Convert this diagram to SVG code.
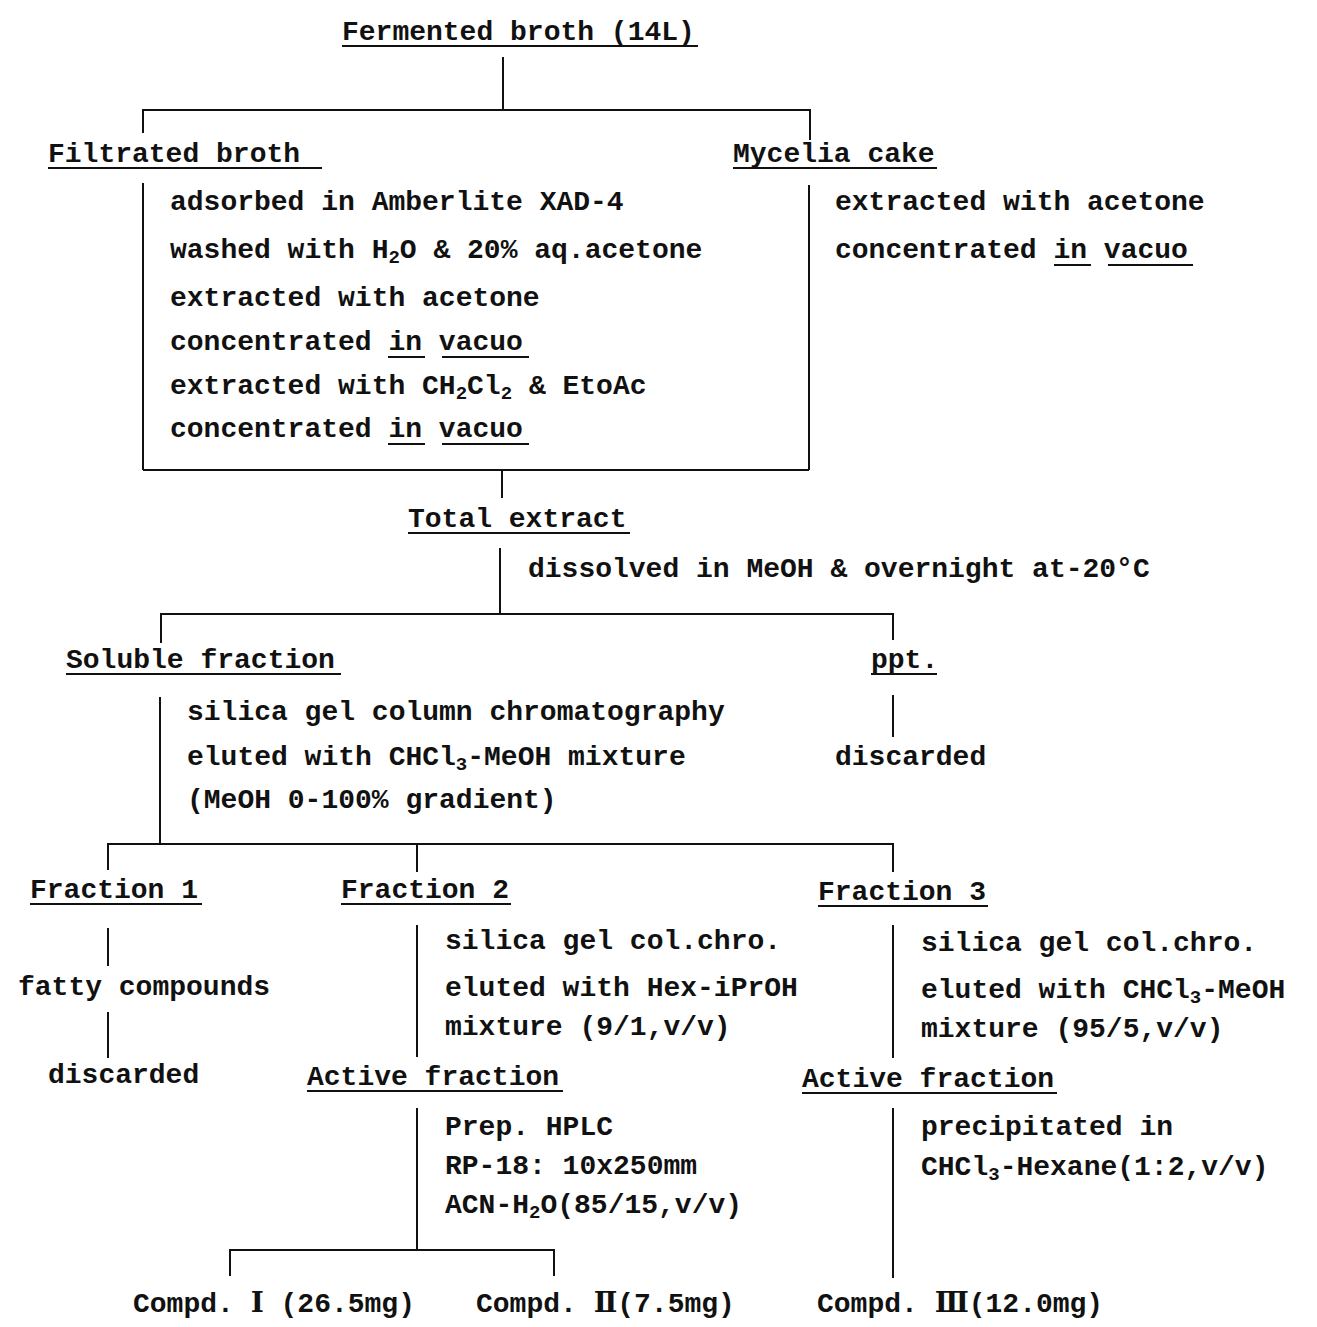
<svg xmlns="http://www.w3.org/2000/svg" width="1317" height="1327" viewBox="0 0 1317 1327">
<style>
text{font-family:"Liberation Mono","DejaVu Sans Mono",monospace;font-weight:bold;font-size:28px;fill:#111;}
.sub{font-size:19px;}
.rn{font-family:"DejaVu Serif","Noto Sans CJK JP",serif;}
line,path{stroke:#111;stroke-width:2;fill:none;}
.ul{stroke-width:2;}
</style>
<rect width="1317" height="1327" fill="#fff"/>
<g id="connectors">
<line x1="503" y1="57" x2="503" y2="110"/>
<path d="M143,133 V110 H810 V140"/>
<line x1="143" y1="183" x2="143" y2="470"/>
<line x1="809" y1="185" x2="809" y2="470"/>
<line x1="143" y1="470" x2="809" y2="470"/>
<line x1="502" y1="470" x2="502" y2="498"/>
<line x1="500" y1="548" x2="500" y2="614"/>
<path d="M161,643 V614 H893 V640"/>
<line x1="160" y1="697" x2="160" y2="844"/>
<line x1="893" y1="695" x2="893" y2="737"/>
<path d="M108,870 V844 H893 V872"/>
<line x1="417" y1="844" x2="417" y2="872"/>
<line x1="108" y1="928" x2="108" y2="966"/>
<line x1="108" y1="1012" x2="108" y2="1058"/>
<line x1="417" y1="925" x2="417" y2="1057"/>
<line x1="893" y1="925" x2="893" y2="1058"/>
<line x1="417" y1="1108" x2="417" y2="1250"/>
<path d="M230,1276 V1250 H554 V1276"/>
<line x1="893" y1="1108" x2="893" y2="1278"/>
</g>
<g id="fermented">
<text x="342" y="40">Fermented broth (14L)</text>
<line class="ul" x1="342" y1="46" x2="698" y2="46"/>
</g>
<g id="filtrated">
<text x="48" y="162">Filtrated broth</text>
<line class="ul" x1="48" y1="168" x2="322" y2="168"/>
</g>
<g id="mycelia">
<text x="733" y="162">Mycelia cake</text>
<line class="ul" x1="733" y1="168" x2="937" y2="168"/>
</g>
<g id="filtrated-steps">
<text x="170" y="210">adsorbed in Amberlite XAD-4</text>
<text x="170" y="258">washed with H<tspan class="sub" dy="5">2</tspan><tspan dy="-5">O &amp; 20% aq.acetone</tspan></text>
<text x="170" y="306">extracted with acetone</text>
<text x="170" y="350">concentrated in vacuo</text>
<line class="ul" x1="388" y1="357" x2="425" y2="357"/>
<line class="ul" x1="442" y1="357" x2="529" y2="357"/>
<text x="170" y="394">extracted with CH<tspan class="sub" dy="5">2</tspan><tspan dy="-5">Cl</tspan><tspan class="sub" dy="5">2</tspan><tspan dy="-5"> &amp; EtoAc</tspan></text>
<text x="170" y="437">concentrated in vacuo</text>
<line class="ul" x1="388" y1="444" x2="425" y2="444"/>
<line class="ul" x1="442" y1="444" x2="529" y2="444"/>
</g>
<g id="mycelia-steps">
<text x="835" y="210">extracted with acetone</text>
<text x="835" y="258">concentrated in vacuo</text>
<line class="ul" x1="1054" y1="265" x2="1091" y2="265"/>
<line class="ul" x1="1108" y1="265" x2="1193" y2="265"/>
</g>
<g id="total">
<text x="408" y="527">Total extract</text>
<line class="ul" x1="408" y1="533" x2="630" y2="533"/>
</g>
<g id="total-step">
<text x="528" y="577">dissolved in MeOH &amp; overnight at-20°C</text>
</g>
<g id="soluble">
<text x="66" y="668">Soluble fraction</text>
<line class="ul" x1="66" y1="674" x2="341" y2="674"/>
</g>
<g id="ppt">
<text x="871" y="668">ppt.</text>
<line class="ul" x1="871" y1="674" x2="937" y2="674"/>
<text x="835" y="765">discarded</text>
</g>
<g id="soluble-steps">
<text x="187" y="720">silica gel column chromatography</text>
<text x="187" y="765">eluted with CHCl<tspan class="sub" dy="5">3</tspan><tspan dy="-5">-MeOH mixture</tspan></text>
<text x="187" y="808">(MeOH 0-100% gradient)</text>
</g>
<g id="fraction1">
<text x="30" y="898">Fraction 1</text>
<line class="ul" x1="30" y1="904" x2="202" y2="904"/>
<text x="18" y="995">fatty compounds</text>
<text x="48" y="1083">discarded</text>
</g>
<g id="fraction2">
<text x="341" y="898">Fraction 2</text>
<line class="ul" x1="341" y1="904" x2="511" y2="904"/>
<text x="445" y="949">silica gel col.chro.</text>
<text x="445" y="996">eluted with Hex-iPrOH</text>
<text x="445" y="1035">mixture (9/1,v/v)</text>
</g>
<g id="fraction3">
<text x="818" y="900">Fraction 3</text>
<line class="ul" x1="818" y1="906" x2="988" y2="906"/>
<text x="921" y="951">silica gel col.chro.</text>
<text x="921" y="998">eluted with CHCl<tspan class="sub" dy="5">3</tspan><tspan dy="-5">-MeOH</tspan></text>
<text x="921" y="1037">mixture (95/5,v/v)</text>
</g>
<g id="active2">
<text x="307" y="1085">Active fraction</text>
<line class="ul" x1="307" y1="1091" x2="563" y2="1091"/>
<text x="445" y="1135">Prep. HPLC</text>
<text x="445" y="1174">RP-18: 10x250mm</text>
<text x="445" y="1213">ACN-H<tspan class="sub" dy="5">2</tspan><tspan dy="-5">O(85/15,v/v)</tspan></text>
</g>
<g id="active3">
<text x="802" y="1087">Active fraction</text>
<line class="ul" x1="802" y1="1093" x2="1057" y2="1093"/>
<text x="921" y="1135">precipitated in</text>
<text x="921" y="1175">CHCl<tspan class="sub" dy="5">3</tspan><tspan dy="-5">-Hexane(1:2,v/v)</tspan></text>
</g>
<g id="compd1"><text x="133" y="1312">Compd. <tspan class="rn">Ⅰ</tspan> (26.5mg)</text></g>
<g id="compd2"><text x="476" y="1312">Compd. <tspan class="rn">Ⅱ</tspan>(7.5mg)</text></g>
<g id="compd3"><text x="817" y="1312">Compd. <tspan class="rn">Ⅲ</tspan>(12.0mg)</text></g>
</svg>
